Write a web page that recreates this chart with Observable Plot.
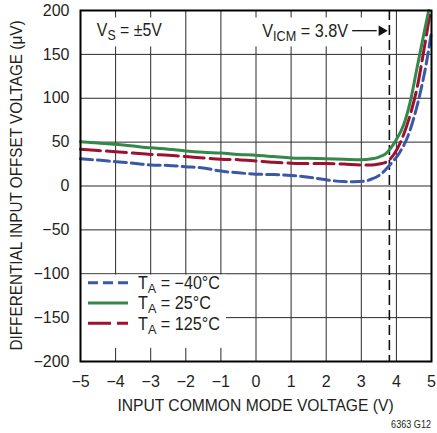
<!DOCTYPE html>
<html>
<head>
<meta charset="utf-8">
<script src="https://cdn.jsdelivr.net/npm/d3@7"></script>
<script src="https://cdn.jsdelivr.net/npm/@observablehq/plot@0.6"></script>
<style>
  html, body { margin: 0; padding: 0; background: #fff; }
  #chart { width: 437px; height: 433px; position: relative; }
</style>
</head>
<body>
<div id="chart"></div>
<script>
// ---- data ----
const xTicks = [-5, -4, -3, -2, -1, 0, 1, 2, 3, 4, 5];
const yTicks = [-200, -150, -100, -50, 0, 50, 100, 150, 200];

const seriesNames = ["T_A = −40°C", "T_A = 25°C", "T_A = 125°C"];

const xCold = [-5, -4.5, -4, -3.5, -3, -2.5, -2, -1.5, -1, -0.5, 0, 0.5, 1, 1.5, 2, 2.5, 2.8, 3.1, 3.3, 3.55, 3.83, 4.12, 4.31, 4.5, 4.69, 4.88, 5.0];
const yCold = [31, 29.5, 27.7, 26, 24, 23.5, 22, 20.5, 17, 15, 13.5, 13, 12, 10, 7, 5, 4.8, 5.5, 8, 13.3, 24.7, 40, 55, 78, 108, 146, 176];

const xRoom = [-5, -4.5, -4, -3.5, -3, -2.5, -2, -1.5, -1, -0.5, 0, 0.5, 1, 1.5, 2, 2.5, 3, 3.3, 3.5, 3.7, 3.97, 4.21, 4.40, 4.59, 4.78, 4.92];
const yRoom = [50.5, 49, 47.5, 45.5, 43.5, 42, 40, 38.5, 37.5, 36, 35, 33.5, 32, 31.5, 31, 30.5, 30, 31, 33, 37, 51, 70, 97, 135, 173, 200];

const xHot = [-5, -4.5, -4, -3.5, -3, -2.5, -2, -1.5, -1, -0.5, 0, 0.5, 1, 1.5, 2, 2.5, 3, 3.3, 3.5, 3.7, 4.02, 4.21, 4.40, 4.59, 4.78, 4.97];
const yHot = [42, 40.5, 39, 37.5, 36, 35, 33.5, 32, 30.5, 30, 28.5, 27, 26, 25.5, 25.5, 25, 24, 24, 25, 27, 42, 59, 82, 112, 154, 200];

const vicmX = [3.8];
const arrowX = [2.74, 3.74];
const arrowY = [177];
const vsLabelPos = [-4.52, 170];
const vicmLabelPos = [0.19, 169];

// ---- build tables ----
const toRows = (xs, ys, s) => xs.map((x, i) => ({x, y: ys[i], s}));
const cold = toRows(xCold, yCold, seriesNames[0]);
const room = toRows(xRoom, yRoom, seriesNames[1]);
const hot = toRows(xHot, yHot, seriesNames[2]);

const FONT = '"Liberation Sans Narrow", "Arial Narrow", "Liberation Sans", Arial, sans-serif';
const INK = "#231f20";
const BLUE = "#3a58a6", GREEN = "#33884a", RED = "#9e1030";
const fmt = d => d < 0 ? "\u2212" + Math.abs(d) : String(d);

// white panels behind the legend and the two labels (they mask the grid)
const panels = [
  {x1: -5, x2: -0.84, y1: -101.5, y2: -185},
  {x1: -4.77, x2: -2.44, y1: 158.5, y2: 191.5},
  {x1: -0.02, x2: 3.72, y1: 158.5, y2: 191.5}
];

const chart = Plot.plot({
  width: 437,
  height: 433,
  marginLeft: 80,
  marginRight: 6,
  marginTop: 10,
  marginBottom: 72,
  style: {fontFamily: FONT, fontSize: "16px", color: INK, background: "#fff", overflow: "visible"},
  x: {domain: [-5, 5]},
  y: {domain: [-200, 200]},
  marks: [
    Plot.ruleX(xTicks, {stroke: "#2a2a2a", strokeWidth: 1}),
    Plot.ruleY(yTicks, {stroke: "#2a2a2a", strokeWidth: 1}),
    Plot.rect(panels, {x1: "x1", x2: "x2", y1: "y1", y2: "y2", fill: "#fff"}),
    Plot.ruleX(vicmX, {stroke: "#111", strokeWidth: 1.6, strokeDasharray: "10,5"}),
    Plot.line(cold, {x: "x", y: "y", stroke: BLUE, strokeWidth: 3, strokeDasharray: "12,5", curve: "monotone-x"}),
    Plot.line(hot, {x: "x", y: "y", stroke: RED, strokeWidth: 3, strokeDasharray: "20,6", curve: "monotone-x"}),
    Plot.line(room, {x: "x", y: "y", stroke: GREEN, strokeWidth: 3, curve: "monotone-x"}),
    Plot.link([{}], {x1: () => arrowX[0], x2: () => arrowX[1] - 0.3, y1: () => arrowY[0], y2: () => arrowY[0], stroke: "#111", strokeWidth: 1.3}),
    Plot.dot([{}], {x: () => arrowX[1] - 0.16, y: () => arrowY[0], symbol: "triangle2", r: 5, rotate: 90, fill: "#111", stroke: "none"}),
    Plot.frame({stroke: "#000", strokeWidth: 2}),
    Plot.axisX({ticks: xTicks, tickSize: 0, tickPadding: 14, tickFormat: fmt, label: null, fontSize: 16}),
    Plot.axisY({ticks: yTicks, tickSize: 0, tickPadding: 11, tickFormat: fmt, label: null, fontSize: 16})
  ]
});
document.getElementById("chart").appendChild(chart);

// ---- annotations, titles, legend ----
const sx = chart.scale("x"), sy = chart.scale("y");
const svg = d3.select(chart);
const g = svg.append("g").attr("font-family", FONT).attr("fill", INK);

// place a text at (x, y) and squeeze it horizontally to the width it has in the reference
function fitText(x, y, parts, size, width, anchor, rotate) {
  const grp = g.append("g");
  const t = grp.append("text").attr("font-size", size).attr("text-anchor", anchor || "start");
  if (typeof parts === "string") t.text(parts);
  else {
    t.append("tspan").text(parts[0]);
    t.append("tspan").attr("dy", size * 0.22).attr("font-size", size * 0.78).text(parts[1]);
    t.append("tspan").attr("dy", -size * 0.22).text(parts[2]);
  }
  const w = t.node().getBBox().width;
  const k = width ? Math.min(1.1, width / w) : 1;
  grp.attr("transform", `translate(${x},${y})${rotate ? ` rotate(${rotate})` : ""} scale(${k},1)`);
  return grp;
}
fitText(sx.apply(vsLabelPos[0]), sy.apply(vsLabelPos[1]), ["V", "S", " = ±5V"], 18.5, 65.5);
fitText(sx.apply(vicmLabelPos[0]), sy.apply(vicmLabelPos[1]), ["V", "ICM", " = 3.8V"], 18.5, 86.5);

const [r0, r1] = sx.range;
const [yb, yt] = sy.range;
fitText((r0 + r1) / 2, yb + 49.5, "INPUT COMMON MODE VOLTAGE (V)", 16.3, 276, "middle");
fitText(22, (yb + yt) / 2, "DIFFERENTIAL INPUT OFFSET VOLTAGE (μV)", 16.3, 330, "middle", -90);
fitText(r1, yb + 67, "6363 G12", 11, 40, "end");

// legend
const legend = [
  {label: ["T", "A", " = −40°C"], color: BLUE, dash: "10,5", w: 82},
  {label: ["T", "A", " = 25°C"], color: GREEN, dash: null, w: 73},
  {label: ["T", "A", " = 125°C"], color: RED, dash: "23,6", w: 82}
];
const ly0 = sy.apply(-100) + 9.5;
legend.forEach((d, i) => {
  const y = ly0 + i * 20.2;
  const ln = g.append("line").attr("x1", r0 + 8).attr("x2", r0 + 48).attr("y1", y).attr("y2", y)
    .attr("stroke", d.color).attr("stroke-width", 3);
  if (d.dash) ln.attr("stroke-dasharray", d.dash);
  fitText(r0 + 58, y + 6.5, d.label, 17.5, d.w);
});
</script>
</body>
</html>
